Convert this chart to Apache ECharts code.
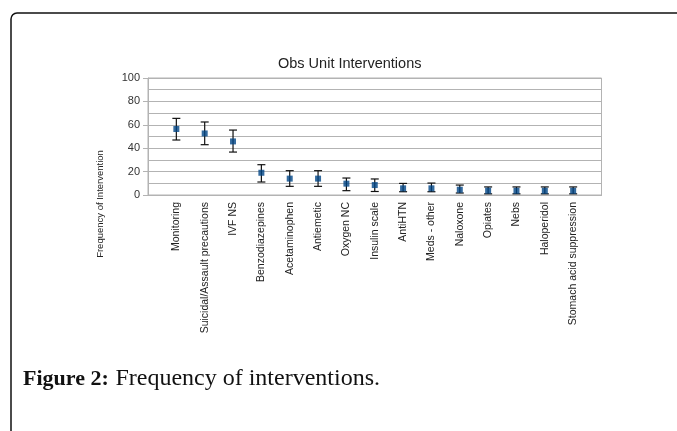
<!DOCTYPE html>
<html><head><meta charset="utf-8">
<script src="https://cdn.jsdelivr.net/npm/echarts@6/dist/echarts.min.js"></script>
<style>html,body{margin:0;padding:0;background:#fff}#c{width:677px;height:431px}</style>
</head><body><div id="c"></div>
<script>
const categories = ['Monitoring','Suicidal/Assault precautions','IVF NS','Benzodiazepines','Acetaminophen','Antiemetic','Oxygen NC','Insulin scale','AntiHTN','Meds - other','Naloxone','Opiates','Nebs','Haloperidol','Stomach acid suppression'];
const values = [56.4, 52.6, 45.8, 19, 14, 14, 9.7, 8.5, 5.7, 5.7, 4.5, 3.7, 3.6, 3.6, 3.6];
const lower  = [47, 43, 36.7, 11.1, 7.4, 7.4, 3.7, 3, 2.8, 2.8, 1.7, 1, 1, 1, 1];
const upper  = [65.5, 62.4, 55.5, 25.9, 20.8, 20.8, 14.5, 13.7, 9.9, 10.2, 8.5, 6.9, 6.9, 6.9, 6.9];
const yTicks = [0, 20, 40, 60, 80, 100];

const axisCats = [' '].concat(categories, ['  ']);
const chart = echarts.init(document.getElementById('c'), null, {renderer:'canvas'});
const grey = '#b3b3b3';
chart.setOption({
  animation: false,
  title: {text: 'Obs Unit Interventions', left: 273, top: 51,
    textStyle: {fontFamily: 'Liberation Sans', fontSize: 14.5, fontWeight: 'normal', color: '#222'}},
  grid: {left: 148, right: 75.5, top: 78, bottom: 236, show: true, borderColor: grey, borderWidth: 1},
  xAxis: {type: 'category', data: axisCats, boundaryGap: false,
    axisLine: {lineStyle: {color: grey}}, axisTick: {show: false}, splitLine: {show: false},
    axisLabel: {interval: 0, rotate: 90, margin: 7, fontFamily: 'Liberation Sans', fontSize: 10.5, color: '#222'}},
  yAxis: {type: 'value', min: yTicks[0], max: yTicks[yTicks.length-1], interval: 20,
    axisLine: {show: true, lineStyle: {color: grey}},
    axisTick: {show: true, length: 5, lineStyle: {color: grey}},
    axisLabel: {margin: 8, fontFamily: 'Liberation Sans', fontSize: 11, color: '#333'},
    splitLine: {lineStyle: {color: grey, width: 1}},
    minorTick: {show: false, splitNumber: 2},
    minorSplitLine: {show: true, lineStyle: {color: grey, width: 1}}},
  series: [
    {type: 'custom', z: 2,
     data: categories.map((c, i) => [i + 1, lower[i], upper[i]]),
     renderItem: function (params, api) {
       const x = api.value(0);
       const b = api.coord([x, api.value(1)]);
       const t = api.coord([x, api.value(2)]);
       const hw = 4;
       const st = {stroke: '#111', lineWidth: 1.2};
       return {type: 'group', children: [
         {type: 'line', shape: {x1: t[0], y1: t[1], x2: b[0], y2: b[1]}, style: st},
         {type: 'line', shape: {x1: t[0]-hw, y1: t[1], x2: t[0]+hw, y2: t[1]}, style: st},
         {type: 'line', shape: {x1: b[0]-hw, y1: b[1], x2: b[0]+hw, y2: b[1]}, style: st}
       ]};
     }},
    {type: 'scatter', z: 3, symbol: 'rect', symbolSize: 6,
     itemStyle: {color: '#004586'},
     data: categories.map((c, i) => [i + 1, values[i]])}
  ],
  graphic: [
    {type: 'rect', shape: {x: 11, y: 13, width: 720, height: 460, r: 6},
     style: {fill: 'none', stroke: '#111', lineWidth: 1.5}, silent: true},
    {type: 'text', x: 100, y: 204, rotation: Math.PI/2,
     style: {text: 'Frequency of Intervention', fontFamily: 'Liberation Sans', fontSize: 9.5,
       fill: '#222', align: 'center', verticalAlign: 'middle'}},
    {type: 'text', left: 23, top: 367,
     style: {text: '{b|Figure 2:}  {r|Frequency of interventions.}',
       rich: {b: {fontFamily: 'Liberation Serif', fontWeight: 'bold', fontSize: 22, fill: '#111'},
              r: {fontFamily: 'Liberation Serif', fontSize: 24, fill: '#111'}}}}
  ]
});
</script></body></html>
